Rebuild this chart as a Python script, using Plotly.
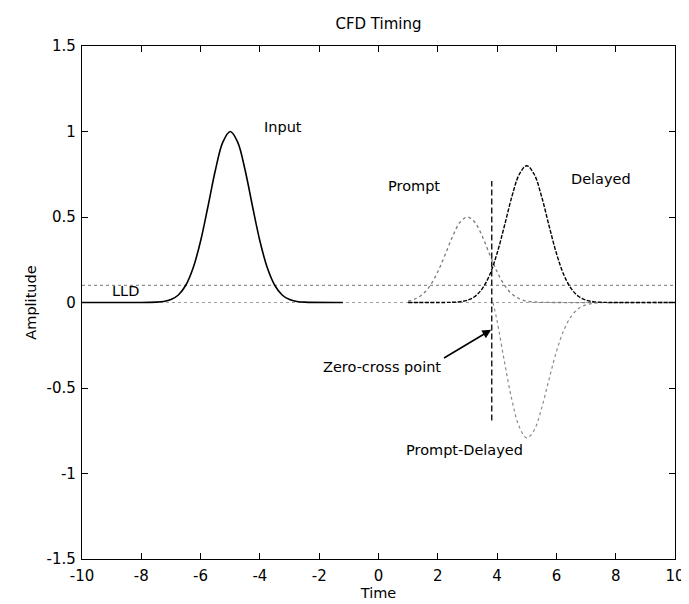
import plotly.graph_objects as go

# ---- data ----
input_t = [-10, -8, -7.75, -7.5, -7.25, -7, -6.75, -6.5, -6.25, -6, -5.75, -5.5, -5.25, -5,
           -4.75, -4.5, -4.25, -4, -3.75, -3.5, -3.25, -3, -2.75, -2.5, -1.2]
input_amp = [0, 0, 0.0005, 0.002, 0.006, 0.017, 0.044, 0.101, 0.203, 0.360, 0.563, 0.775, 0.938, 1.0,
             0.938, 0.775, 0.563, 0.360, 0.203, 0.101, 0.044, 0.017, 0.006, 0.002, 0]

prompt_t = [1, 1.25, 1.5, 1.75, 2, 2.25, 2.5, 2.75, 3, 3.25, 3.5, 3.75, 4, 4.25, 4.5, 4.75, 5,
            5.25, 5.5, 6, 10]
prompt_amp = [0.0085, 0.022, 0.050, 0.101, 0.180, 0.281, 0.387, 0.469, 0.5, 0.469, 0.387, 0.281,
              0.180, 0.101, 0.050, 0.022, 0.0085, 0.003, 0.001, 0, 0]

delayed_t = [1, 2.25, 2.5, 2.75, 3, 3.25, 3.5, 3.75, 4, 4.25, 4.5, 4.75, 5, 5.25, 5.5, 5.75, 6,
             6.25, 6.5, 6.75, 7, 7.25, 7.5, 7.75, 10]
delayed_amp = [0, 0.0004, 0.0014, 0.0046, 0.0135, 0.035, 0.081, 0.162, 0.288, 0.450, 0.620, 0.750,
               0.8, 0.750, 0.620, 0.450, 0.288, 0.162, 0.081, 0.035, 0.0135, 0.0046, 0.0014, 0.0004, 0]

diff_t = [3.86, 4, 4.25, 4.5, 4.75, 5, 5.25, 5.5, 5.75, 6, 6.25, 6.5, 6.75, 7, 7.25, 7.5]
diff_amp = [0, -0.108, -0.349, -0.570, -0.728, -0.792, -0.747, -0.619, -0.450, -0.288, -0.162,
            -0.081, -0.035, -0.0135, -0.0046, -0.0014]

lld_t = [-10, 10]
lld_amp = [0.1, 0.1]
zero_t = [-10, 10]
zero_amp = [0, 0]
cross_t = [3.82, 3.82]
cross_amp = [-0.69, 0.71]

x_ticks = [-10, -8, -6, -4, -2, 0, 2, 4, 6, 8, 10]
x_tick_text = ["-10", "-8", "-6", "-4", "-2", "0", "2", "4", "6", "8", "10"]
y_ticks = [-1.5, -1, -0.5, 0, 0.5, 1, 1.5]
y_tick_text = ["-1.5", "-1", "-0.5", "0", "0.5", "1", "1.5"]

FONT = "DejaVu Sans"

fig = go.Figure()
fig.add_trace(go.Scatter(x=zero_t, y=zero_amp, mode="lines",
                         line=dict(color="#a0a0a0", width=1, dash="dot")))
fig.add_trace(go.Scatter(x=lld_t, y=lld_amp, mode="lines",
                         line=dict(color="#909090", width=1.2, dash="dot")))
fig.add_trace(go.Scatter(x=input_t, y=input_amp, mode="lines", line_shape="spline",
                         line=dict(color="black", width=1.6)))
fig.add_trace(go.Scatter(x=prompt_t, y=prompt_amp, mode="lines", line_shape="spline",
                         line=dict(color="#7a7a7a", width=1.3, dash="dot")))
fig.add_trace(go.Scatter(x=delayed_t, y=delayed_amp, mode="lines", line_shape="spline",
                         line=dict(color="black", width=1.4, dash="4px,1.5px")))
fig.add_trace(go.Scatter(x=diff_t, y=diff_amp, mode="lines", line_shape="spline",
                         line=dict(color="#8a8a8a", width=1.2, dash="dot")))
fig.add_trace(go.Scatter(x=cross_t, y=cross_amp, mode="lines",
                         line=dict(color="black", width=1.3, dash="6px,3px")))

ann_font = dict(family=FONT, size=14.5, color="black")
annotations = [
    dict(x=-3.22, y=1.025, text="Input", showarrow=False, font=ann_font),
    dict(x=1.19, y=0.68, text="Prompt", showarrow=False, font=ann_font),
    dict(x=7.49, y=0.72, text="Delayed", showarrow=False, font=ann_font),
    dict(x=-8.54, y=0.065, text="LLD", showarrow=False, font=ann_font),
    dict(x=-1.95, y=-0.38, text="Zero-cross point", showarrow=False, font=ann_font,
         xanchor="left"),
    dict(x=2.9, y=-0.86, text="Prompt-Delayed", showarrow=False, font=ann_font),
    dict(x=3.8, y=-0.16, ax=2.16, ay=-0.33, axref="x", ayref="y", text="",
         showarrow=True, arrowhead=2, arrowsize=1.1, arrowwidth=1.6, arrowcolor="black"),
]

fig.update_layout(
    width=689, height=604,
    margin=dict(l=74, r=13, t=38, b=53),
    paper_bgcolor="white", plot_bgcolor="white",
    showlegend=False,
    font=dict(family=FONT, size=15, color="black"),
    title=dict(text="CFD Timing", x=0.5, xref="paper", xanchor="center",
               y=1 - 16 / 604, yref="container", yanchor="middle",
               font=dict(family=FONT, size=15, color="black")),
    annotations=annotations,
)
fig.update_xaxes(range=[-10, 10], tickvals=x_ticks, ticktext=x_tick_text, ticks="inside",
                 ticklen=6, tickcolor="black", showline=True, linecolor="black", linewidth=1.2,
                 mirror="ticks", showgrid=False, zeroline=False, ticklabelstandoff=3,
                 title=dict(text="Time", standoff=3, font=dict(size=14.5)))
fig.update_yaxes(range=[-1.5, 1.5], tickvals=y_ticks, ticktext=y_tick_text, ticks="inside",
                 ticklen=6, tickcolor="black", showline=True, linecolor="black", linewidth=1.2,
                 mirror="ticks", showgrid=False, zeroline=False, ticklabelstandoff=2,
                 title=dict(text="Amplitude", standoff=6, font=dict(size=14.5)))

fig.write_html("out.html")
